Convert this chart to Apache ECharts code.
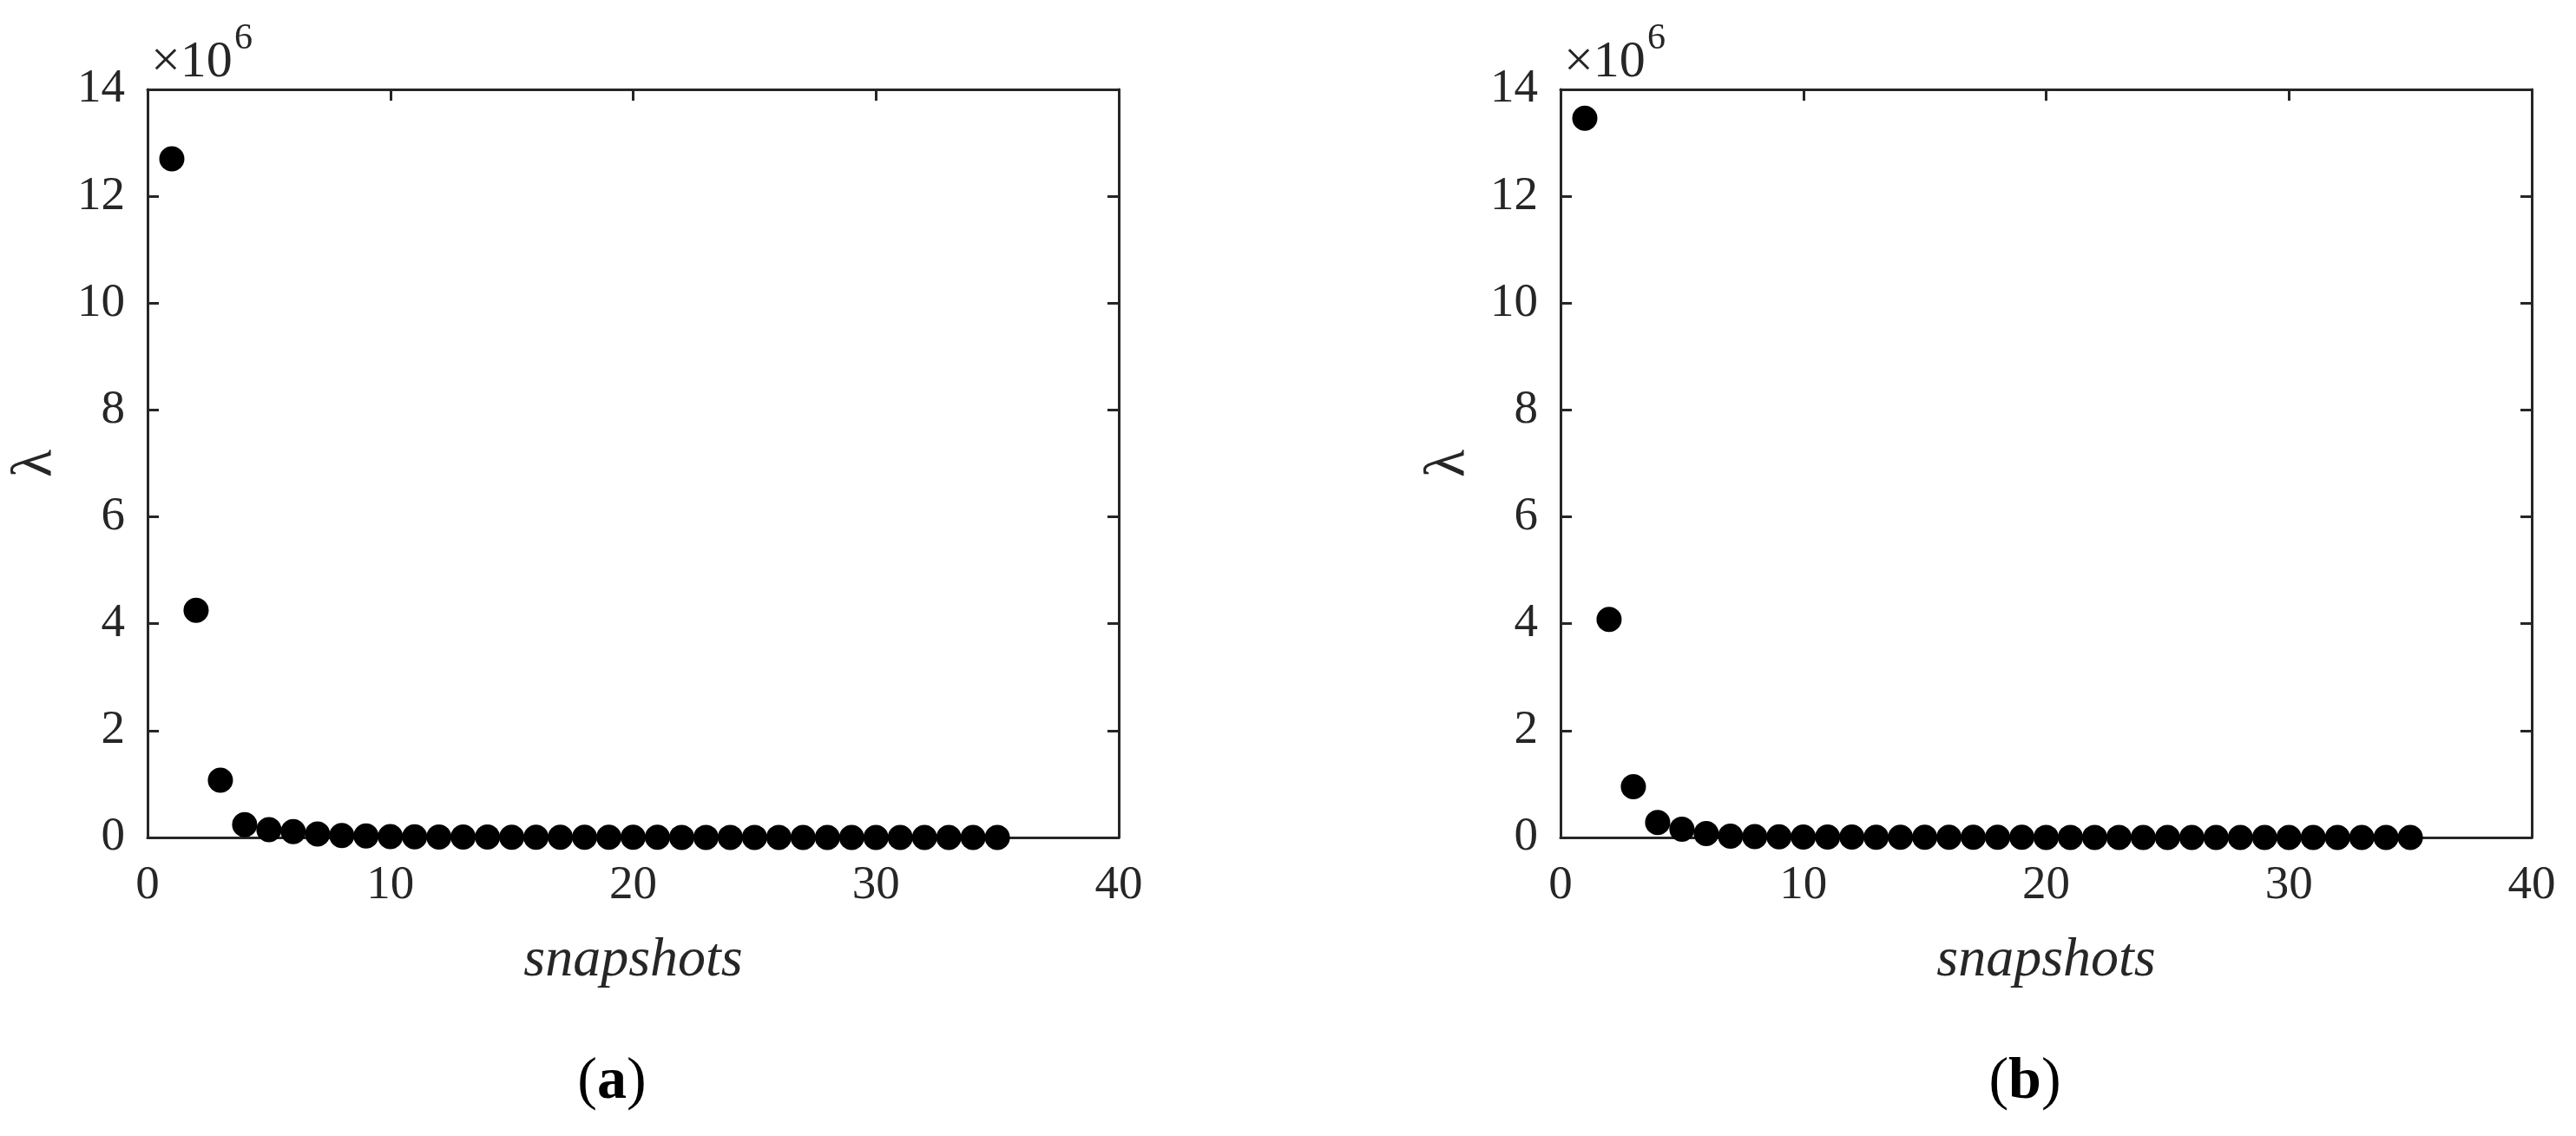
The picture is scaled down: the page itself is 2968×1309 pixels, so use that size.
<!DOCTYPE html>
<html>
<head>
<meta charset="utf-8">
<script src="https://cdn.jsdelivr.net/npm/echarts@6/dist/echarts.min.js"></script>
<style>
html,body{margin:0;padding:0;background:#fff;}
#chart{width:2968px;height:1309px;}
</style>
</head>
<body>
<div id="chart"></div>
<script>
// ---- data ----
var snapshots = [1,2,3,4,5,6,7,8,9,10,11,12,13,14,15,16,17,18,19,20,21,22,23,24,25,26,27,28,29,30,31,32,33,34,35];
var lambdaA = [12.70e6, 4.25e6, 1.07e6, 0.24e6, 0.146e6, 0.108e6, 0.065e6, 0.038e6, 0.027e6, 0.016e6,
               0.012e6, 0.010e6, 0.008e6, 0.007e6, 0.006e6, 0.005e6, 0.004e6, 0.004e6, 0.003e6, 0.003e6,
               0.003e6, 0.002e6, 0.002e6, 0.002e6, 0.002e6, 0.002e6, 0.001e6, 0.001e6, 0.001e6, 0.001e6,
               0.001e6, 0.001e6, 0.0005e6, 0.0005e6, 0.0002e6];
var lambdaB = [13.46e6, 4.08e6, 0.95e6, 0.28e6, 0.155e6, 0.075e6, 0.025e6, 0.018e6, 0.014e6, 0.010e6,
               0.008e6, 0.007e6, 0.006e6, 0.005e6, 0.004e6, 0.004e6, 0.003e6, 0.003e6, 0.003e6, 0.002e6,
               0.002e6, 0.002e6, 0.002e6, 0.001e6, 0.001e6, 0.001e6, 0.001e6, 0.001e6, 0.001e6, 0.001e6,
               0.0005e6, 0.0005e6, 0.0005e6, 0.0003e6, 0.0002e6];
var xTicks = [0, 10, 20, 30, 40];
var yTicks = [0, 2, 4, 6, 8, 10, 12, 14];
var panelLabels = ['a', 'b'];
var xName = 'snapshots';
var yName = '\u03bb';

// ---- styling ----
var FONT = "'Liberation Serif', 'Times New Roman', serif";
var AX = '#262626';
var grids = [
  {left: 170, top: 103, width: 1119, height: 862},
  {left: 1798, top: 103, width: 1119, height: 862}
];

function pairOf(arrX, arrY) {
  return arrX.map(function (x, i) { return [x, arrY[i]]; });
}

var xAxes = [], yAxes = [], series = [], graphics = [];
var datasets = [lambdaA, lambdaB];
grids.forEach(function (g, gi) {
  var lineStyle = {color: AX, width: 3};
  xAxes.push({
    type: 'value', gridIndex: gi, position: 'bottom',
    min: xTicks[0], max: xTicks[xTicks.length - 1], interval: xTicks[1] - xTicks[0],
    axisLine: {show: true, onZero: false, lineStyle: lineStyle},
    axisTick: {show: true, inside: true, length: 13, lineStyle: lineStyle},
    axisLabel: {show: true, color: AX, fontFamily: FONT, fontSize: 55, margin: 28},
    splitLine: {show: false},
    name: xName, nameLocation: 'middle', nameGap: 110,
    nameTextStyle: {color: AX, fontFamily: FONT, fontSize: 64, fontStyle: 'italic'}
  });
  xAxes.push({
    type: 'value', gridIndex: gi, position: 'top',
    min: xTicks[0], max: xTicks[xTicks.length - 1], interval: xTicks[1] - xTicks[0],
    axisLine: {show: true, onZero: false, lineStyle: lineStyle},
    axisTick: {show: true, inside: true, length: 13, lineStyle: lineStyle},
    axisLabel: {show: false}, splitLine: {show: false}
  });
  yAxes.push({
    type: 'value', gridIndex: gi, position: 'left',
    min: yTicks[0] * 1e6, max: yTicks[yTicks.length - 1] * 1e6, interval: (yTicks[1] - yTicks[0]) * 1e6,
    axisLine: {show: true, onZero: false, lineStyle: lineStyle},
    axisTick: {show: true, inside: true, length: 13, lineStyle: lineStyle},
    axisLabel: {show: true, color: AX, fontFamily: FONT, fontSize: 55, margin: 26,
      formatter: function (v) { return String(Math.round(v / 1e6)); }},
    splitLine: {show: false},
    name: yName, nameLocation: 'middle', nameGap: 96, nameRotate: 90,
    nameTextStyle: {color: AX, fontFamily: FONT, fontSize: 66}
  });
  yAxes.push({
    type: 'value', gridIndex: gi, position: 'right',
    min: yTicks[0] * 1e6, max: yTicks[yTicks.length - 1] * 1e6, interval: (yTicks[1] - yTicks[0]) * 1e6,
    axisLine: {show: true, onZero: false, lineStyle: lineStyle},
    axisTick: {show: true, inside: true, length: 13, lineStyle: lineStyle},
    axisLabel: {show: false}, splitLine: {show: false}
  });
  series.push({
    type: 'scatter', xAxisIndex: gi * 2, yAxisIndex: gi * 2,
    data: pairOf(snapshots, datasets[gi]),
    symbol: 'circle', symbolSize: 29,
    itemStyle: {color: '#000', opacity: 1},
    silent: true, z: 3
  });
  // exponent label
  graphics.push({
    type: 'text', left: g.left + 4, top: 42,
    style: {text: '\u00d710', font: '60px ' + FONT, fill: AX}
  });
  graphics.push({
    type: 'text', left: g.left + 100, top: 24,
    style: {text: '6', font: '42px ' + FONT, fill: AX}
  });
  // panel label
  graphics.push({
    type: 'text', x: g.left + 535, y: 1213,
    style: {
      text: '({b|' + panelLabels[gi] + '})',
      font: '68px ' + FONT, fill: '#000', align: 'center', verticalAlign: 'top',
      rich: {b: {fontFamily: FONT, fontSize: 68, fontWeight: 'bold', fill: '#000'}}
    }
  });
});

var chart = echarts.init(document.getElementById('chart'), null, {renderer: 'canvas'});
chart.setOption({
  animation: false,
  backgroundColor: '#fff',
  grid: grids.map(function (g) { return Object.assign({containLabel: false}, g); }),
  xAxis: xAxes,
  yAxis: yAxes,
  series: series,
  graphic: graphics
});
</script>
</body>
</html>
